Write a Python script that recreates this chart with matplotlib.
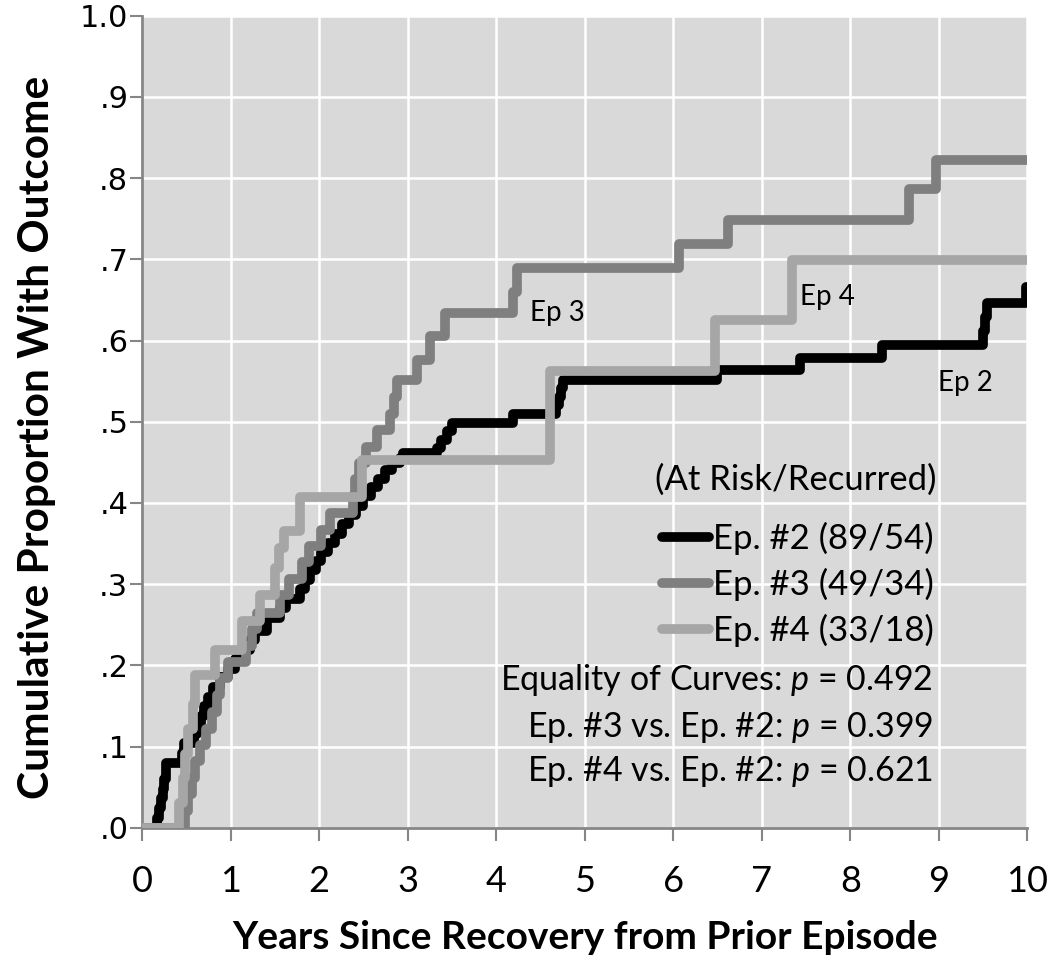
import matplotlib
matplotlib.use("Agg")
import matplotlib.pyplot as plt

# ---------------- data ----------------
ep2_t = [0.00, 0.17, 0.19, 0.21, 0.23, 0.25, 0.27, 0.45, 0.47, 0.58, 0.62, 0.66, 0.70, 0.74, 0.80,
         0.88, 0.97, 1.05, 1.16, 1.22, 1.28, 1.41, 1.56, 1.63, 1.78, 1.84, 1.90, 1.96, 2.02, 2.10,
         2.18, 2.26, 2.34, 2.42, 2.50, 2.58, 2.66, 2.74, 2.82, 2.91, 2.95, 3.33, 3.38, 3.44, 3.50,
         4.19, 4.68, 4.71, 4.73, 4.76, 6.50, 7.43, 8.36, 9.50, 9.52, 9.55, 9.99, 10.0]
ep2_p = [0.000, 0.012, 0.024, 0.036, 0.048, 0.060, 0.080, 0.092, 0.104, 0.115, 0.127, 0.138, 0.150,
         0.161, 0.173, 0.185, 0.196, 0.208, 0.219, 0.231, 0.242, 0.258, 0.270, 0.282, 0.294, 0.305,
         0.317, 0.328, 0.340, 0.351, 0.362, 0.374, 0.385, 0.396, 0.408, 0.419, 0.430, 0.441, 0.449,
         0.455, 0.461, 0.467, 0.478, 0.489, 0.498, 0.510, 0.520, 0.531, 0.541, 0.551, 0.564, 0.579,
         0.594, 0.612, 0.629, 0.646, 0.666, 0.666]

ep3_t = [0.00, 0.48, 0.52, 0.56, 0.60, 0.65, 0.72, 0.79, 0.84, 0.88, 0.97, 1.17, 1.24, 1.30, 1.56,
         1.66, 1.80, 1.88, 2.02, 2.12, 2.38, 2.41, 2.45, 2.53, 2.65, 2.80, 2.84, 2.88, 3.10, 3.25,
         3.42, 4.19, 4.23, 6.07, 6.62, 8.66, 8.97, 10.0]
ep3_p = [0.000, 0.020, 0.041, 0.061, 0.082, 0.102, 0.122, 0.143, 0.163, 0.184, 0.204, 0.224, 0.245,
         0.265, 0.286, 0.306, 0.327, 0.347, 0.367, 0.388, 0.408, 0.429, 0.449, 0.469, 0.490, 0.510,
         0.531, 0.551, 0.576, 0.605, 0.634, 0.660, 0.689, 0.719, 0.749, 0.786, 0.822, 0.822]

ep4_t = [0.00, 0.42, 0.46, 0.48, 0.52, 0.57, 0.60, 0.82, 1.13, 1.33, 1.50, 1.55, 1.60, 1.78, 2.48,
         4.61, 6.47, 7.34, 10.0]
ep4_p = [0.000, 0.030, 0.061, 0.091, 0.121, 0.152, 0.188, 0.219, 0.254, 0.287, 0.320, 0.345, 0.366,
         0.407, 0.453, 0.563, 0.625, 0.699, 0.699]

series_labels = ["Ep. #2 (89/54)", "Ep. #3 (49/34)", "Ep. #4 (33/18)"]
series_colors = ["#000000", "#7f7f7f", "#a6a6a6"]
curve_names = ["Ep 2", "Ep 3", "Ep 4"]
curve_name_pos = [(8.99, 0.548), (4.38, 0.634), (7.43, 0.654)]

x_ticks = list(range(0, 11))
y_ticks = [0.0, 0.1, 0.2, 0.3, 0.4, 0.5, 0.6, 0.7, 0.8, 0.9, 1.0]
y_tick_labels = [".0", ".1", ".2", ".3", ".4", ".5", ".6", ".7", ".8", ".9", "1.0"]

legend_title = "(At Risk/Recurred)"
stats_lines = ["Equality of Curves: $p$ = 0.492",
               "Ep. #3 vs. Ep. #2: $p$ = 0.399",
               "Ep. #4 vs. Ep. #2: $p$ = 0.621"]
stats_y = [0.182, 0.124, 0.069]

x_label = "Years Since Recovery from Prior Episode"
y_label = "Cumulative Proportion With Outcome"

# ---------------- style ----------------
plt.rcParams["font.family"] = ["Lato", "DejaVu Sans"]
plt.rcParams["mathtext.fontset"] = "custom"
plt.rcParams["mathtext.rm"] = "Lato"
plt.rcParams["mathtext.it"] = "Lato:italic"

fig = plt.figure(figsize=(10.5, 9.64), dpi=100)
ax = fig.add_axes([142.2 / 1050, 1 - 827.7 / 964, 885 / 1050, 812 / 964])
ax.set_facecolor("#d9d9d9")

ax.set_xlim(0, 10)
ax.set_ylim(0, 1.0)
ax.set_xticks(x_ticks)
ax.set_yticks(y_ticks)
ax.set_yticklabels(y_tick_labels, fontfamily="DejaVu Sans", fontsize=22)
ax.set_xticklabels([str(v) for v in x_ticks], fontsize=26)
ax.grid(True, color="white", linewidth=1.8)
ax.set_axisbelow(True)

for s in ["top", "right"]:
    ax.spines[s].set_visible(False)
for s in ["left", "bottom"]:
    ax.spines[s].set_color("#868686")
    ax.spines[s].set_linewidth(2.0)
ax.tick_params(axis="both", direction="out", length=9, width=1.5, color="#868686")
ax.tick_params(axis="x", pad=18)
ax.tick_params(axis="y", pad=1)

handles = []
for t, p, c, lab, z in zip([ep2_t, ep3_t, ep4_t], [ep2_p, ep3_p, ep4_p],
                           series_colors, series_labels, [3, 4, 5]):
    ln, = ax.step(t, p, where="post", color=c, linewidth=7.0, label=lab, zorder=z,
                  solid_joinstyle="round", solid_capstyle="round")
    handles.append(ln)

for name, (tx, ty) in zip(curve_names, curve_name_pos):
    ax.text(tx, ty, name, fontsize=20, ha="left", va="center", color="black", zorder=6)

ax.text(0.898, 0.428, legend_title, transform=ax.transAxes, fontsize=25,
        ha="right", va="center", zorder=7)
leg = ax.legend(handles=handles, loc="upper right", bbox_to_anchor=(0.894, 0.3766),
                frameon=False, fontsize=25,
                handlelength=1.35, handletextpad=0.1, labelspacing=0.366,
                borderpad=0.0, borderaxespad=0.0)
leg.set_zorder(7)

for s, yy in zip(stats_lines, stats_y):
    ax.text(0.8936, yy, s, transform=ax.transAxes, fontsize=24.5,
            ha="right", va="center", zorder=6)

ax.set_xlabel(x_label, fontsize=28, fontweight="bold", labelpad=16)
ax.set_ylabel(y_label, fontsize=30.5, fontweight="bold")
ax.yaxis.set_label_coords(-0.0974, 0.481)

fig.savefig("out.png", dpi=100, facecolor="white")
